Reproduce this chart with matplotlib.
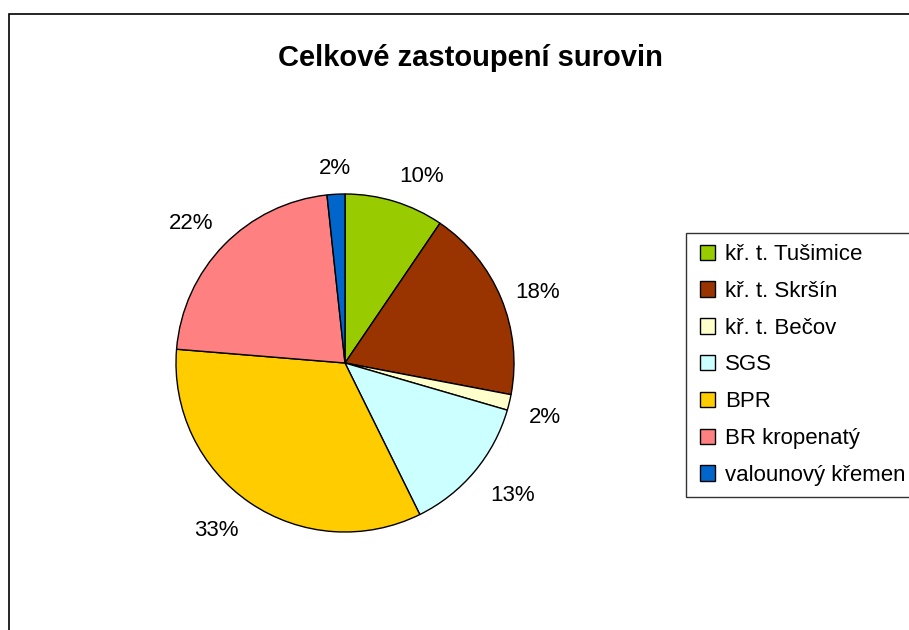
import numpy as np
import matplotlib.pyplot as plt
from matplotlib.patches import Rectangle
from matplotlib.legend_handler import HandlerPatch

plt.rcParams['font.family'] = ['Liberation Sans', 'DejaVu Sans']

categories = ['kř. t. Tušimice', 'kř. t. Skršín', 'kř. t. Bečov', 'SGS',
              'BPR', 'BR kropenatý', 'valounový křemen']
# slice sizes as drawn, percent labels as printed in the chart
shares = [9.5, 18.5, 1.5, 13.2, 33.6, 22.0, 1.7]
pct_labels = ['10%', '18%', '2%', '13%', '33%', '22%', '2%']
colors = ['#99CC00', '#993300', '#FFFFCC', '#CCFFFF', '#FFCC00', '#FF8080', '#0066CC']

W, H = 909, 630
fig = plt.figure(figsize=(W / 100, H / 100), dpi=100)

# chart frame
fig.patches.append(Rectangle((9 / W, -0.1), 1.2, 1 - 14 / H + 0.1,
                             transform=fig.transFigure, fill=False,
                             edgecolor='black', linewidth=1.2))

# pie axes: centre (345, 363) px, radius 169 px
cx, cy, r, k = 345, 363, 169, 1.5
ax = fig.add_axes([(cx - r * k) / W, (H - cy - r * k) / H, 2 * r * k / W, 2 * r * k / H])
wedges, _ = ax.pie(shares, colors=colors, startangle=90, counterclock=False,
                   wedgeprops=dict(edgecolor='black', linewidth=1.0))

# Excel-like outside labels: anchored just outside the rim, box pushed outward
for w, lab in zip(wedges, pct_labels):
    ang = np.deg2rad((w.theta1 + w.theta2) / 2)
    ux, uy = np.cos(ang), np.sin(ang)
    ha = 'left' if ux > 0.15 else ('right' if ux < -0.15 else 'center')
    va = 'bottom' if uy > 0.5 else ('top' if uy < -0.15 else 'center')
    dist = 1.09 if uy > -0.15 else 1.12
    ax.text(dist * ux, dist * uy, lab, ha=ha, va=va, fontsize=16)

ax.set_xlim(-k, k)
ax.set_ylim(-k, k)
ax.set_aspect('equal')
ax.axis('off')

fig.text(470 / W, 1 - 58 / H, 'Celkové zastoupení surovin', ha='center', va='center',
         fontsize=21, fontweight='bold')


def square(legend, orig_handle, xdescent, ydescent, width, height, fontsize):
    s = 11
    return Rectangle((width - s - xdescent, height / 2 - s / 2 - ydescent), s, s)


leg = fig.legend(wedges, categories, loc='upper left',
                 bbox_to_anchor=(686 / W, 1 - 233 / H), bbox_transform=fig.transFigure,
                 fontsize=16, frameon=True, fancybox=False, edgecolor='black',
                 handlelength=0.81, handleheight=0.7, handletextpad=0.45,
                 labelspacing=0.71, borderpad=0.5, borderaxespad=0,
                 handler_map={type(wedges[0]): HandlerPatch(patch_func=square)})
leg.get_frame().set_linewidth(1.0)
for h in leg.legend_handles:
    h.set_edgecolor('black')
    h.set_linewidth(1.0)

fig.savefig('out.png', dpi=100)
